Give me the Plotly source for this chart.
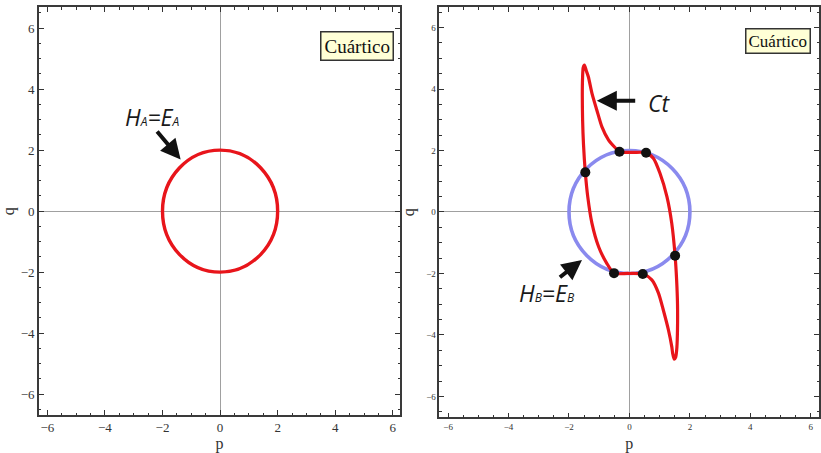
import plotly.graph_objects as go

# ---------------- data ----------------
radius_A = 2.0          # H_A = E_A circle (left)
radius_B = 2.0          # H_B = E_B circle (right)

ct_p = [-1.49, -1.43, -1.36, -1.24, -1.08, -0.91, -0.69, -0.47, -0.33, 0.10, 0.55,
        0.79, 1.01, 1.24, 1.40, 1.51, 1.56, 1.59, 1.59, 1.57, 1.53, 1.48,
        1.43, 1.40, 1.29, 1.12, 0.96, 0.74, 0.44, -0.05, -0.51,
        -0.75, -1.02, -1.24, -1.38, -1.46, -1.52, -1.55, -1.56, -1.55, -1.53, -1.49]
ct_q = [4.78, 4.60, 4.40, 3.86, 3.32, 2.77, 2.34, 2.09, 1.96, 1.94, 1.93,
        1.75, 1.26, 0.50, -0.37, -1.42, -2.20, -3.00, -3.80, -4.40, -4.72, -4.79,
        -4.60, -4.38, -3.84, -3.19, -2.64, -2.21, -2.02, -2.00, -1.99,
        -1.67, -1.13, -0.37, 0.50, 1.29, 2.20, 3.00, 3.80, 4.40, 4.70, 4.78]

dots_p = [-0.33, 0.55, -1.46, 1.51, -0.51, 0.44]
dots_q = [1.96, 1.93, 1.29, -1.42, -1.99, -2.02]

tick_vals = [-6, -4, -2, 0, 2, 4, 6]
tick_text = ["\u22126", "\u22124", "\u22122", "0", "2", "4", "6"]

RED = "#E8151B"
BLUE = "#8A8AEE"
SERIF = "Liberation Serif, Times New Roman, serif"
HAND = "Open Sans, DejaVu Sans, sans-serif"

fig = go.Figure()

fig.add_trace(go.Scatter(x=ct_p, y=ct_q, mode="lines",
                         line=dict(color=RED, width=3.2, shape="spline", smoothing=0.7),
                         xaxis="x2", yaxis="y2", showlegend=False, hoverinfo="skip"))
fig.add_trace(go.Scatter(x=dots_p, y=dots_q, mode="markers",
                         marker=dict(color="#111111", size=10),
                         xaxis="x2", yaxis="y2", showlegend=False))

# circles via data coordinates
fig.add_shape(type="circle", xref="x", yref="y",
              x0=-radius_A, x1=radius_A, y0=-radius_A, y1=radius_A,
              line=dict(color=RED, width=3.4), layer="between")
fig.add_shape(type="circle", xref="x2", yref="y2",
              x0=-radius_B, x1=radius_B, y0=-radius_B, y1=radius_B,
              line=dict(color=BLUE, width=3.6), layer="between")


def axis_style(dom, rng, size, anchor):
    return dict(domain=dom, range=rng, anchor=anchor, automargin=False,
                tickmode="array", tickvals=tick_vals, ticktext=tick_text,
                ticks="inside", ticklen=5, tickwidth=1, tickcolor="#333",
                minor=dict(dtick=0.5, tick0=0, ticks="inside", ticklen=2.5,
                           tickwidth=1, tickcolor="#333", showgrid=False),
                showline=True, linecolor="#3a3a3a", linewidth=1.6, mirror="allticks",
                showgrid=False, zeroline=True, zerolinecolor="#a0a0a0", zerolinewidth=1,
                tickfont=dict(family=SERIF, size=size, color="#333"),
                fixedrange=True)


fig.update_layout(
    template="none",
    width=821, height=453, autosize=False,
    margin=dict(l=0, r=0, t=0, b=0, pad=0),
    paper_bgcolor="white", plot_bgcolor="white",
    showlegend=False,
    xaxis=dict(**axis_style([0.0475, 0.4872], [-6.29, 6.25], 13, "y"),
               title=dict(text="p", font=dict(family=SERIF, size=16, color="#333"), standoff=4)),
    yaxis=dict(**axis_style([0.0839, 0.9839], [-6.68, 6.68], 13, "x"),
               title=dict(text="q", font=dict(family=SERIF, size=16, color="#333"), standoff=6)),
    xaxis2=dict(**axis_style([0.5351, 0.9979], [-6.29, 6.28], 9, "y2"),
                title=dict(text="p", font=dict(family=SERIF, size=16, color="#333"), standoff=8)),
    yaxis2=dict(**axis_style([0.0788, 0.9839], [-6.68, 6.66], 9, "x2"),
                title=dict(text="q", font=dict(family=SERIF, size=16, color="#333"), standoff=8)),
)

# label boxes
fig.add_annotation(xref="paper", yref="paper", x=0.4348, y=0.898, text="Cuártico",
                   xanchor="center", yanchor="middle",
                   showarrow=False, font=dict(family=SERIF, size=19, color="#111"),
                   bgcolor="#FFFFD6", bordercolor="#333", borderwidth=1.5, borderpad=3)
fig.add_annotation(xref="paper", yref="paper", x=0.9474, y=0.9095, text="Cuártico",
                   xanchor="center", yanchor="middle",
                   showarrow=False, font=dict(family=SERIF, size=17, color="#111"),
                   bgcolor="#FFFFD6", bordercolor="#333", borderwidth=1.5, borderpad=2)

# text labels
SUB = "<span style='font-size:12px'>{}</span>"
fig.add_annotation(xref="x", yref="y", x=-2.35, y=3.09,
                   text="<i>H" + SUB.format("A") + "=E" + SUB.format("A") + "</i>", showarrow=False,
                   font=dict(family=HAND, size=23, color="#1a1a1a"))
fig.add_annotation(xref="x2", yref="y2", x=0.98, y=3.53,
                   text="<i>Ct</i>", showarrow=False,
                   font=dict(family=HAND, size=23, color="#1a1a1a"))
fig.add_annotation(xref="x2", yref="y2", x=-2.73, y=-2.64,
                   text="<i>H" + SUB.format("B") + "=E" + SUB.format("B") + "</i>", showarrow=False,
                   font=dict(family=HAND, size=23, color="#1a1a1a"))

# arrows
for xr, yr, hx, hy, tx, ty in [("x", "y", -1.37, 1.69, -2.23, 2.66),
                               ("x2", "y2", -1.08, 3.62, 0.24, 3.62),
                               ("x2", "y2", -1.57, -1.56, -2.35, -2.16)]:
    fig.add_annotation(xref=xr, yref=yr, x=hx, y=hy, axref=xr, ayref=yr, ax=tx, ay=ty,
                       text="", showarrow=True, arrowhead=2, arrowsize=1,
                       arrowwidth=4, arrowcolor="#111", standoff=0, startstandoff=0)

fig.write_html("out.html", config={"displayModeBar": False},
               post_script="document.body.style.margin='0';document.body.style.overflow='hidden';")
